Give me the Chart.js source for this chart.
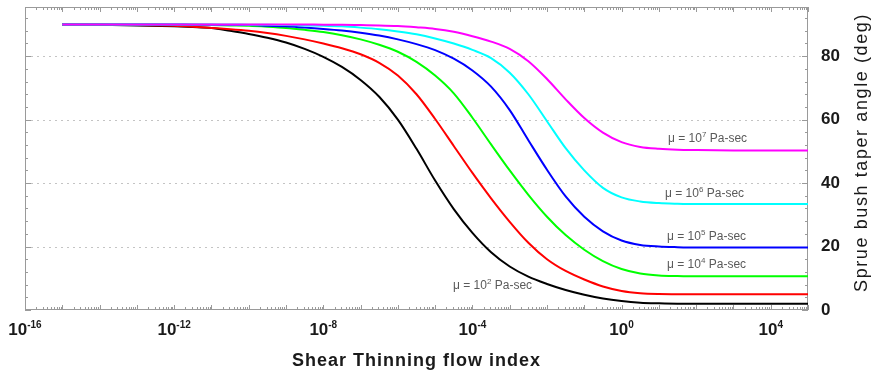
<!DOCTYPE html>
<html>
<head>
<meta charset="utf-8">
<script src="https://cdn.jsdelivr.net/npm/chart.js@4.4.0/dist/chart.umd.min.js"></script>
<style>
    html, body { margin: 0; padding: 0; background: #fff; }
    canvas { display: block; }
</style>
</head>
<body>
<canvas id="grafikSudut" width="872" height="374"></canvas>
<script>
// Indeks aliran (pangkat 10) untuk setiap titik kurva
const pangkatIndeks = [-15, -14, -13, -12, -11.5, -11, -10.5, -10, -9.5, -9, -8.5, -8, -7.5, -7, -6.5, -6,
    -5.5, -5, -4.5, -4, -3.5, -3, -2.5, -2, -1.5, -1, -0.5, 0, 0.5, 1, 1.5, 2, 3, 4, 5];

// Sudut taper (deg) untuk tiap viskositas mu
const sudutMu2 = [90, 89.9, 89.7, 89.4, 89.2, 88.9, 88.0, 87.0, 85.8, 84.3, 82.3, 79.8, 76.6, 72.5, 67.2, 60.0,
    50.8, 40.8, 31.8, 24.3, 18.2, 13.7, 10.5, 8.2, 6.3, 4.8, 3.6, 2.8, 2.3, 2.1, 2.0, 2.0, 2.0, 2.0, 2.0];
const sudutMu3 = [90, 90, 89.8, 89.6, 89.3, 88.9, 88.5, 88.0, 87.3, 86.4, 85.3, 84.0, 82.5, 80.6, 77.9, 73.9,
    68.0, 60.2, 51.7, 43.2, 35.2, 27.8, 21.2, 16.0, 12.3, 9.6, 7.4, 6.0, 5.3, 5.05, 5.0, 5.0, 5.0, 5.0, 5.0];
const sudutMu4 = [90, 90, 90, 89.9, 89.9, 89.8, 89.7, 89.6, 89.3, 88.9, 88.3, 87.6, 86.6, 85.3, 83.6, 81.4,
    78.2, 73.9, 68.3, 60.6, 52.2, 44.0, 36.3, 29.4, 23.6, 19.0, 15.4, 12.9, 11.5, 10.9, 10.7, 10.6, 10.6, 10.6, 10.6];
const sudutMu5 = [90, 90, 90, 90, 89.9, 89.9, 89.8, 89.8, 89.6, 89.4, 89.0, 88.6, 88.1, 87.4, 86.5, 85.3,
    83.8, 81.9, 79.2, 75.5, 70.4, 63.0, 53.5, 44.2, 35.8, 29.4, 24.8, 21.9, 20.5, 20.0, 19.8, 19.7, 19.7, 19.7, 19.7];
const sudutMu6 = [90, 90, 90, 90, 90, 90, 90, 89.9, 89.9, 89.8, 89.7, 89.6, 89.4, 89.0, 88.5, 87.8,
    86.9, 85.6, 84.0, 82.0, 79.4, 74.8, 68.0, 59.5, 51.0, 44.0, 38.5, 35.5, 34.2, 33.7, 33.5, 33.4, 33.4, 33.4, 33.4];
const sudutMu7 = [90, 90, 90, 90, 90, 90, 90, 90, 90, 90, 90, 89.9, 89.9, 89.8, 89.7, 89.5,
    89.1, 88.6, 87.7, 86.3, 84.6, 82.3, 78.4, 72.8, 66.4, 60.5, 55.9, 52.9, 51.4, 50.8, 50.5, 50.4, 50.3, 50.3, 50.3];

// Label sumbu
const labelX = [-16, -12, -8, -4, 0, 4];
const labelY = [0, 20, 40, 60, 80];

function keTitik(nilai) {
    return nilai.map((v, i) => ({ x: Math.pow(10, pangkatIndeks[i]), y: v }));
}

// teks "dasar" + pangkat kecil + sisa, rata kiri mulai dari x
function tulisPangkat(ctx, x, y, dasar, pangkat, sisa, fontBesar, fontKecil, naik) {
    ctx.textAlign = 'left';
    ctx.textBaseline = 'alphabetic';
    ctx.font = fontBesar;
    ctx.fillText(dasar, x, y);
    x += ctx.measureText(dasar).width;
    ctx.font = fontKecil;
    ctx.fillText(pangkat, x, y - naik);
    x += ctx.measureText(pangkat).width;
    if (sisa) {
        ctx.font = fontBesar;
        ctx.fillText(sisa, x, y);
    }
}

function lebarPangkat(ctx, dasar, pangkat, fontBesar, fontKecil) {
    ctx.font = fontBesar;
    let w = ctx.measureText(dasar).width;
    ctx.font = fontKecil;
    return w + ctx.measureText(pangkat).width;
}

// Bingkai, grid titik-titik, tick, label sumbu dan keterangan mu
const hiasan = {
    id: 'hiasan',
    beforeDatasetsDraw(chart) {
        const { ctx, chartArea: a, scales: { x, y } } = chart;
        ctx.save();
        ctx.lineWidth = 1;

        ctx.strokeStyle = '#c4c4c4';
        ctx.setLineDash([2, 4]);
        for (const v of labelY) {
            if (v === 0) continue;
            const py = Math.round(y.getPixelForValue(v)) + 0.5;
            ctx.beginPath();
            ctx.moveTo(a.left, py);
            ctx.lineTo(a.right, py);
            ctx.stroke();
        }
        ctx.setLineDash([]);

        ctx.strokeStyle = '#9a9a9a';
        ctx.strokeRect(a.left + 0.5, a.top + 0.5, a.right - a.left - 1, a.bottom - a.top - 1);

        ctx.beginPath();
        for (let e = -16; e <= 5; e++) {
            for (let m = 1; m < 10; m++) {
                const v = m * Math.pow(10, e);
                if (v > 1e5 * 1.0001) break;
                const px = Math.round(x.getPixelForValue(v)) + 0.5;
                const p = m === 1 ? 5 : 3;
                ctx.moveTo(px, a.bottom);
                ctx.lineTo(px, a.bottom - p);
                ctx.moveTo(px, a.top);
                ctx.lineTo(px, a.top + p);
            }
        }
        for (let v = 0; v <= 92; v += 4) {
            const py = Math.round(y.getPixelForValue(v)) + 0.5;
            const p = v % 20 === 0 ? 6 : 3;
            ctx.moveTo(a.left, py);
            ctx.lineTo(a.left + p, py);
            ctx.moveTo(a.right, py);
            ctx.lineTo(a.right - p, py);
        }
        ctx.stroke();
        ctx.restore();
    },
    afterDatasetsDraw(chart) {
        const { ctx, chartArea: a, scales: { x, y } } = chart;
        ctx.save();

        // label sumbu x: 10 pangkat
        ctx.fillStyle = '#1a1a1a';
        const fB = 'bold 17px "Liberation Sans", Arial, sans-serif';
        const fK = 'bold 10px "Liberation Sans", Arial, sans-serif';
        for (const e of labelX) {
            const px = x.getPixelForValue(Math.pow(10, e));
            const w = lebarPangkat(ctx, '10', String(e), fB, fK);
            tulisPangkat(ctx, px - w / 2, 335, '10', String(e), '', fB, fK, 7);
        }

        // label sumbu y (kanan)
        ctx.font = fB;
        ctx.textAlign = 'left';
        ctx.textBaseline = 'middle';
        for (const v of labelY) {
            ctx.fillText(String(v), a.right + 13, y.getPixelForValue(v));
        }

        // judul sumbu
        ctx.font = 'bold 18px "Liberation Sans", Arial, sans-serif';
        ctx.textAlign = 'center';
        ctx.textBaseline = 'middle';
        ctx.letterSpacing = '1px';
        ctx.fillText('Shear Thinning flow index', (a.left + a.right) / 2, 361);

        ctx.save();
        ctx.translate(862, (a.top + a.bottom) / 2 - 6);
        ctx.rotate(-Math.PI / 2);
        ctx.font = '18px "Liberation Sans", Arial, sans-serif';
        ctx.letterSpacing = '1.6px';
        ctx.fillText('Sprue bush taper angle (deg)', 0, 0);
        ctx.restore();
        ctx.letterSpacing = '0px';

        // keterangan viskositas
        ctx.fillStyle = '#5a5a5a';
        const kB = '12px "Liberation Sans", Arial, sans-serif';
        const kK = '8px "Liberation Sans", Arial, sans-serif';
        const ket = [
            ['7', 668, 142],
            ['6', 665, 197],
            ['5', 667, 240],
            ['4', 667, 268],
            ['2', 453, 289]
        ];
        for (const [p, lx, ly] of ket) {
            tulisPangkat(ctx, lx, ly, '\u03bc = 10', p, ' Pa-sec', kB, kK, 5);
        }
        ctx.restore();
    }
};

const seri = [
    { mu: 7, data: sudutMu7, warna: '#ff00ff' },
    { mu: 6, data: sudutMu6, warna: '#00ffff' },
    { mu: 5, data: sudutMu5, warna: '#0000ff' },
    { mu: 4, data: sudutMu4, warna: '#00ff00' },
    { mu: 3, data: sudutMu3, warna: '#ff0000' },
    { mu: 2, data: sudutMu2, warna: '#000000' }
];

const ctx = document.getElementById('grafikSudut').getContext('2d');
const chart = new Chart(ctx, {
    type: 'line',
    data: {
        datasets: seri.map(s => ({
            label: 'mu = 10^' + s.mu + ' Pa-sec',
            data: keTitik(s.data),
            borderColor: s.warna,
            backgroundColor: s.warna,
            borderWidth: 2,
            pointRadius: 0,
            fill: false,
            cubicInterpolationMode: 'monotone'
        }))
    },
    options: {
        responsive: false,
        animation: false,
        devicePixelRatio: 1,
        layout: { padding: { left: 25, top: 7, right: 64, bottom: 64 } },
        plugins: {
            legend: { display: false },
            tooltip: { enabled: false }
        },
        scales: {
            x: { type: 'logarithmic', min: 1e-16, max: 1e5, display: false },
            y: { type: 'linear', min: 0, max: 95.5, display: false }
        }
    },
    plugins: [hiasan]
});
</script>
</body>
</html>
